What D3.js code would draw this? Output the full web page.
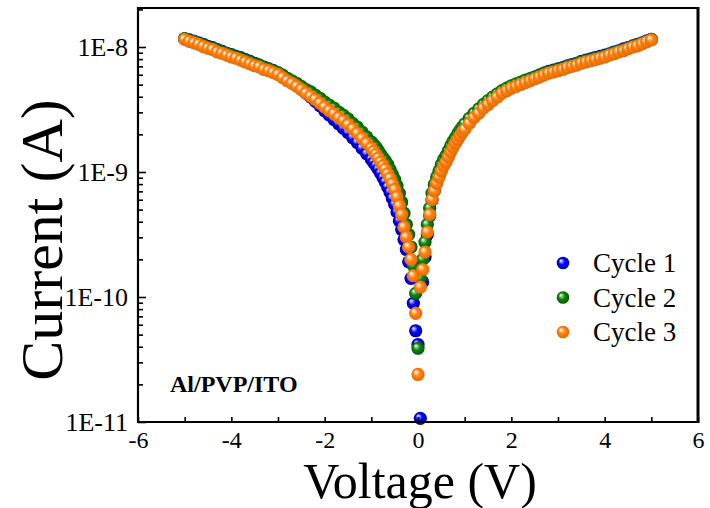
<!DOCTYPE html>
<html>
<head>
<meta charset="utf-8">
<script src="https://cdn.jsdelivr.net/npm/d3@7/dist/d3.min.js"></script>
<style>
  html, body { margin: 0; padding: 0; background: #fff; }
  svg { display: block; }
  text { font-family: "Liberation Serif", "Times New Roman", serif; fill: #000; }
</style>
</head>
<body>
<svg id="chart" width="710" height="508"></svg>
<script>
// ---------------- DATA ----------------
const voltage = [
  -5.0,-4.9,-4.8,-4.7,-4.6,-4.5,-4.4,-4.3,-4.2,-4.1,-4.0,-3.9,-3.8,-3.7,-3.6,-3.5,-3.4,-3.3,-3.2,-3.1,
  -3.0,-2.9,-2.8,-2.7,-2.6,-2.5,-2.4,-2.3,-2.2,-2.1,-2.0,-1.9,-1.8,-1.7,-1.6,-1.5,-1.4,-1.3,-1.2,-1.1,-1.0,
  -0.95,-0.9,-0.85,-0.8,-0.75,-0.7,-0.65,-0.6,-0.55,-0.5,-0.45,-0.4,-0.35,-0.3,-0.25,-0.2,-0.15,-0.1,-0.05,
  0,
  0.05,0.1,0.15,0.2,0.25,0.3,0.35,0.4,0.45,0.5,0.55,0.6,0.65,0.7,0.75,0.8,0.85,0.9,0.95,
  1.0,1.1,1.2,1.3,1.4,1.5,1.6,1.7,1.8,1.9,2.0,2.1,2.2,2.3,2.4,2.5,2.6,2.7,2.8,2.9,
  3.0,3.1,3.2,3.3,3.4,3.5,3.6,3.7,3.8,3.9,4.0,4.1,4.2,4.3,4.4,4.5,4.6,4.7,4.8,4.9,5.0
];

// currents in nA
const cycle1_nA = [
  11.6,11.4,11.1,10.8,10.5,10.1,9.89,9.55,9.23,8.91,8.71,8.41,8.22,7.94,7.67,7.41,7.16,6.92,6.68,6.46,
  6.17,5.89,5.56,5.25,4.95,4.62,4.27,3.98,3.67,3.39,3.09,2.85,2.63,2.43,2.24,2.07,1.88,1.72,1.55,1.40,1.26,
  1.19,1.12,1.05,0.977,0.902,0.832,0.759,0.692,0.617,0.550,0.479,0.407,0.347,0.288,0.240,0.191,0.141,0.0891,0.0537,
  0.0417,
  0.0107,0.132,0.209,0.316,0.447,0.596,0.708,0.822,0.933,1.05,1.15,1.24,1.35,1.48,1.62,1.74,1.86,2.00,2.14,
  2.26,2.51,2.79,3.02,3.31,3.55,3.80,4.07,4.37,4.57,4.79,5.01,5.19,5.37,5.56,5.75,5.96,6.17,6.38,6.53,
  6.68,6.84,7.08,7.24,7.41,7.67,7.85,8.04,8.22,8.41,8.61,8.81,9.12,9.33,9.66,9.89,10.2,10.5,10.8,11.2,11.5
];
const cycle2_nA = [
  11.7,11.2,11.1,10.7,10.4,10.0,9.77,9.44,9.12,8.91,8.61,8.32,8.13,7.85,7.59,7.33,7.16,6.84,6.68,6.46,
  6.24,5.96,5.62,5.37,5.13,4.84,4.57,4.37,4.12,3.89,3.63,3.43,3.24,3.02,2.85,2.66,2.45,2.29,2.09,1.91,1.74,
  1.66,1.58,1.48,1.38,1.30,1.23,1.15,1.05,0.955,0.871,0.776,0.676,0.575,0.468,0.380,0.316,0.251,0.178,0.107,
  0.0389,
  0.141,0.200,0.275,0.380,0.513,0.676,0.794,0.912,1.02,1.15,1.26,1.35,1.48,1.62,1.76,1.88,2.02,2.16,2.29,
  2.43,2.69,2.95,3.20,3.47,3.72,3.98,4.22,4.47,4.68,4.90,5.07,5.25,5.43,5.56,5.75,5.96,6.17,6.31,6.46,
  6.61,6.76,7.00,7.16,7.33,7.59,7.76,7.94,8.13,8.32,8.51,8.71,9.02,9.23,9.55,9.77,10.1,10.4,10.7,11.1,11.5
];
const cycle3_nA = [
  11.5,11.1,10.8,10.5,10.1,9.77,9.55,9.12,8.91,8.61,8.32,8.13,7.85,7.59,7.33,7.08,6.92,6.61,6.46,6.24,
  6.03,5.69,5.37,5.13,4.84,4.57,4.27,4.03,3.80,3.55,3.31,3.09,2.92,2.72,2.57,2.40,2.21,2.04,1.86,1.70,1.55,
  1.46,1.38,1.29,1.20,1.12,1.05,0.966,0.891,0.804,0.724,0.631,0.537,0.457,0.363,0.302,0.251,0.200,0.148,0.074,
  0.024,
  0.120,0.166,0.229,0.331,0.457,0.603,0.708,0.813,0.912,1.02,1.12,1.20,1.32,1.45,1.58,1.70,1.82,1.95,2.09,
  2.19,2.45,2.72,2.95,3.24,3.47,3.72,3.98,4.27,4.47,4.68,4.84,5.01,5.19,5.37,5.56,5.75,5.96,6.17,6.31,
  6.46,6.61,6.84,7.00,7.16,7.41,7.59,7.76,7.94,8.13,8.32,8.61,8.81,9.12,9.33,9.66,10.0,10.2,10.6,11.0,11.4
];

const seriesNames = ["Cycle 1", "Cycle 2", "Cycle 3"];
const xTickValues = [-6, -4, -2, 0, 2, 4, 6];
const xMinorTicks = [-6,-5,-4,-3,-2,-1,0,1,2,3,4,5,6];
const yTickValues = [1e-11, 1e-10, 1e-9, 1e-8];
const yTickLabels = ["1E-11", "1E-10", "1E-9", "1E-8"];
const xTitle = "Voltage (V)";
const yTitle = "Current (A)";
const annotation = "Al/PVP/ITO";

// ---------------- LAYOUT ----------------
const L = 138, R = 698, T = 8, B = 422;
const svg = d3.select("#chart");

const x = d3.scaleLinear().domain([-6, 6]).range([L, R]);
const y = d3.scaleLog().domain([1e-11, Math.pow(10, -7.688)]).range([B, T]);

const palette = [
  { base: "#0000ff", light: "#a0a0ff", dark: "#000090" },
  { base: "#0b8a0b", light: "#a6d6a6", dark: "#035003" },
  { base: "#ff8410", light: "#ffd6a8", dark: "#e06400" }
];

const defs = svg.append("defs");
palette.forEach((p, i) => {
  const g = defs.append("radialGradient")
    .attr("id", "sph" + i)
    .attr("cx", "50%").attr("cy", "50%").attr("r", "55%")
    .attr("fx", "32%").attr("fy", "30%");
  g.append("stop").attr("offset", "0%").attr("stop-color", "#ffffff");
  g.append("stop").attr("offset", "16%").attr("stop-color", p.light);
  g.append("stop").attr("offset", "46%").attr("stop-color", p.base);
  g.append("stop").attr("offset", "100%").attr("stop-color", p.dark);
});

const series = [cycle1_nA, cycle2_nA, cycle3_nA].map((arr, i) => ({
  name: seriesNames[i],
  idx: i,
  points: voltage.map((v, j) => ({ v: v, I: arr[j] * 1e-9 }))
}));

// data points
const plot = svg.append("g");
series.forEach(s => {
  plot.append("g").selectAll("circle")
    .data(s.points)
    .join("circle")
    .attr("cx", d => x(d.v))
    .attr("cy", d => y(d.I))
    .attr("r", 6.6)
    .attr("fill", `url(#sph${s.idx})`);
});

// axes
const xAxisMinor = d3.axisBottom(x).tickValues(xMinorTicks).tickSize(-5).tickFormat("");
const xAxis = d3.axisBottom(x).tickValues(xTickValues).tickSize(0).tickPadding(9).tickFormat(d => String(d));
const gxm = svg.append("g").attr("transform", `translate(0,${B})`).call(xAxisMinor);
const gx = svg.append("g").attr("transform", `translate(0,${B})`).call(xAxis);

const yMinor = [];
yTickValues.forEach(t => {
  for (let k = 2; k <= 9; k++) { const val = t * k; if (val <= y.domain()[1]) yMinor.push(val); }
});
const yAxisMinor = d3.axisLeft(y).tickValues(yMinor).tickSize(-5).tickFormat("");
const yAxisMajor = d3.axisLeft(y).tickValues(yTickValues).tickSize(-8).tickPadding(10)
  .tickFormat((d, i) => yTickLabels[i]);
const gym = svg.append("g").attr("transform", `translate(${L},0)`).call(yAxisMinor);
const gy = svg.append("g").attr("transform", `translate(${L},0)`).call(yAxisMajor);

[gxm, gx, gym, gy].forEach(g => {
  g.select(".domain").remove();
  g.selectAll(".tick line").attr("stroke", "#000").attr("stroke-width", 1.6);
});
gx.selectAll("text").style("font-size", "24px").attr("fill", "#000");
gy.selectAll("text").style("font-size", "26px").attr("fill", "#000");

// frame
const frame = svg.append("g").attr("stroke", "#000").attr("fill", "none");
frame.append("line").attr("x1", L).attr("x2", L).attr("y1", T - 1).attr("y2", B + 1).attr("stroke-width", 2.2);
frame.append("line").attr("x1", L - 1).attr("x2", R + 1).attr("y1", B).attr("y2", B).attr("stroke-width", 2.2);
frame.append("line").attr("x1", L - 1).attr("x2", R + 1).attr("y1", T).attr("y2", T).attr("stroke-width", 2.2);
frame.append("line").attr("x1", R).attr("x2", R).attr("y1", T - 1).attr("y2", B + 1).attr("stroke-width", 3);

// titles
svg.append("text")
  .attr("x", 420).attr("y", 498)
  .attr("text-anchor", "middle")
  .style("font-size", "50px")
  .text(xTitle);
svg.append("text")
  .attr("transform", `translate(62,${240}) rotate(-90)`)
  .attr("text-anchor", "middle")
  .style("font-size", "60px")
  .text(yTitle);

// annotation
svg.append("text")
  .attr("x", 170).attr("y", 392)
  .style("font-size", "24px").style("font-weight", "bold")
  .text(annotation);

// legend
const legend = svg.append("g");
series.forEach((s, i) => {
  const ly = 263 + i * 34.5;
  legend.append("circle").attr("cx", 563).attr("cy", ly).attr("r", 6.3).attr("fill", `url(#sph${i})`);
  legend.append("text").attr("x", 593).attr("y", ly + 9).style("font-size", "27px").text(s.name);
});
</script>
</body>
</html>
